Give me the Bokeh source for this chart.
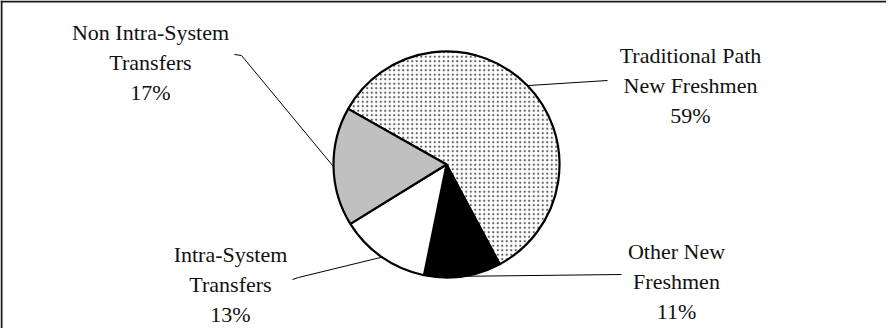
import math
from bokeh.plotting import figure
from bokeh.models import Range1d, ColumnDataSource, Span
from bokeh.core.properties import value
from bokeh.embed import file_html
from bokeh.resources import INLINE

# ---- data ----
categories = ["Traditional Path New Freshmen", "Other New Freshmen",
              "Intra-System Transfers", "Non Intra-System Transfers"]
percents = [59, 11, 13, 17]
label_lines = [["Traditional Path", "New Freshmen"],
               ["Other New", "Freshmen"],
               ["Intra-System", "Transfers"],
               ["Non Intra-System", "Transfers"]]
fill_colors = ["white", "black", "white", "#c0c0c0"]
hatches = ["dot", "blank", "blank", "blank"]

# ---- layout (screen px -> data units, 1:1) ----
W, H = 886, 328


def X(sx):
    return sx - 8


def Y(sy):
    return 336 - sy


p = figure(width=W, height=H, x_range=Range1d(0, W), y_range=Range1d(0, H),
           output_backend="svg", toolbar_location=None, min_border=0,
           x_axis_location=None, y_axis_location=None)
p.grid.visible = False
p.outline_line_color = None
p.background_fill_color = "white"
p.border_fill_color = "white"

# frame (left and top edges visible; rest runs off the image)
p.add_layout(Span(location=1, dimension="height", line_color="#1a1a1a", line_width=2))
p.add_layout(Span(location=H - 1, dimension="width", line_color="#1a1a1a", line_width=2))

# ---- pie ----
cx, cy, r = X(454), Y(172), 113
start0 = 150.5
total = float(sum(percents))
starts, ends, mids = [], [], []
acc = 0.0
for v in percents:
    s = start0 - acc / total * 360.0
    e = s - v / total * 360.0
    starts.append(math.radians(s))
    ends.append(math.radians(e))
    mids.append(math.radians((s + e) / 2.0))
    acc += v

wsrc = ColumnDataSource(dict(start=starts, end=ends, fill=fill_colors, hatch=hatches,
                             cat=categories))
p.wedge(x=cx, y=cy, radius=r, start_angle="start", end_angle="end", direction="clock",
        fill_color="fill", hatch_pattern="hatch", hatch_color="#5e5e5e",
        hatch_scale=4.5, hatch_weight=1.6, line_color="black", line_width=2.2,
        source=wsrc)

# ---- leader lines (label side points, screen px) ----
leader_pts = [[(615, 88)],
              [(629, 282)],
              [(300, 287), (306, 285)],
              [(242, 62), (249, 63)]]
xs, ys = [], []
for pts, m in zip(leader_pts, mids):
    lx = [X(a) for a, b in pts] + [cx + r * math.cos(m)]
    ly = [Y(b) for a, b in pts] + [cy + r * math.sin(m)]
    xs.append(lx)
    ys.append(ly)
p.multi_line(xs=xs, ys=ys, line_color="black", line_width=1)

# ---- labels ----
label_pos = [(698, 63), (684, 259), (238, 262), (158, 40)]  # center x, first baseline
line_gap = 30
tx, ty, tt = [], [], []
for lines, v, (sx, sy) in zip(label_lines, percents, label_pos):
    for i, t in enumerate(lines + [f"{v}%"]):
        tx.append(X(sx))
        ty.append(Y(sy + i * line_gap))
        tt.append(t)
tsrc = ColumnDataSource(dict(x=tx, y=ty, text=tt))
p.text(x="x", y="y", text="text", source=tsrc, text_font=value("Liberation Serif"),
       text_font_size="22px", text_align="center", text_baseline="alphabetic",
       text_color="#111111")

open("out.html", "w").write(file_html(p, INLINE))
